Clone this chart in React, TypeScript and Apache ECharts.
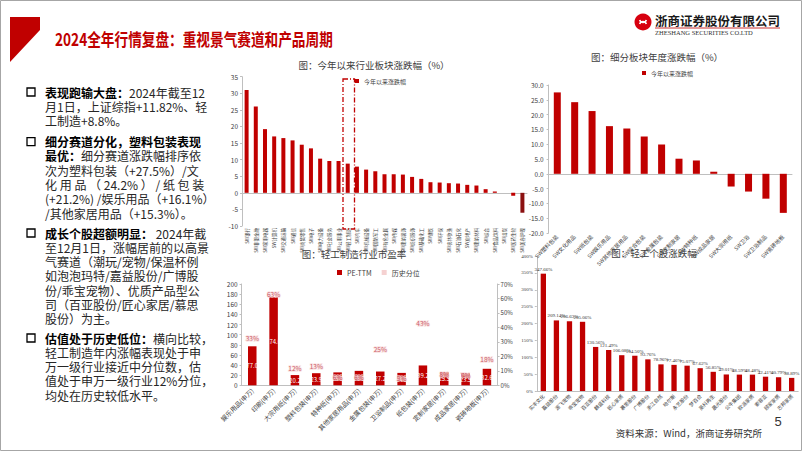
import React, { useEffect, useRef } from 'react';
import * as echarts from 'echarts';

// ---------- DATA ----------
const industryNames = [
  'SW银行', 'SW非银金融', 'SW家用电器', 'SW计算机', 'SW交通运输', 'SW通信', 'SW商贸零售', 'SW电子',
  'SW电力设备', 'SW社会服务', 'SW公用事业', 'SW轻工制造', 'SW汽车', 'SW机械设备', 'SW国防军工', 'SW有色金属',
  'SW传媒', 'SW建筑装饰', 'SW纺织服饰', 'SW基础化工', 'SW钢铁', 'SW环保', 'SW农林牧渔', 'SW石油石化',
  'SW房地产', 'SW建筑材料', 'SW综合', 'SW食品饮料', 'SW煤炭', 'SW医药生物', 'SW美容护理',
];
const industryValues = [
  31.0, 26.0, 19.2, 17.0, 16.5, 15.8, 14.5, 13.4, 10.3, 9.6, 9.6, 8.8, 7.9, 7.0, 6.5, 5.6,
  5.6, 5.5, 4.8, 4.2, 3.2, 3.1, 2.9, 2.8, 2.4, 2.2, 1.1, 0.4, 0.0, -0.9, -6.0,
];
const industryTicks = [-10, -5, 0, 5, 10, 15, 20, 25, 30, 35];

const subNames = [
  'SW塑料包装', 'SW文化用品', 'SW纸包装', 'SW娱乐用品', 'SW其他家居用品', 'SW综合包装', 'SW金属包装',
  'SW定制家居', 'SW特种纸', 'SW成品家居', 'SW大宗用纸', 'SW卫浴', 'SW卫浴制品', 'SW瓷砖地板',
];
const subValues = [27.5, 24.2, 21.2, 16.1, 15.3, 12.6, 9.9, 5.1, 4.5, 0.7, -4.3, -6.0, -8.4, -13.2];
const subTicks = [-20, -15, -10, -5, 0, 5, 10, 15, 20, 25, 30];

const peNames = [
  '娱乐用品(申万)', '印刷(申万)', '大宗用纸(申万)', '塑料包装(申万)', '特种纸(申万)', '其他家居用品(申万)',
  '金属包装(申万)', '卫浴制品(申万)', '纸包装(申万)', '定制家居(申万)', '成品家居(申万)', '瓷砖地板(申万)',
];
const peValues = [77.0, 174.0, 20.2, 23.9, 25.5, 28.5, 27.2, 24.5, 39.2, 25.5, 23.5, 32.6];
const pctValues = [33, 63, 12, 13, 6, 6, 25, 5, 43, 8, 7, 18];
const peTicks = [0, 20, 40, 60, 80, 100, 120, 140, 160, 180, 200];
const pctTicks = [0, 10, 20, 30, 40, 50, 60, 70];

const stockNames = [
  '实丰文化', '嘉益股份', '源飞宠物', '乖宝宠物', '百亚股份', '麒盛科技', '匠心家居', '慕思股份',
  '广博股份', '浙江自然', '哈尔斯', '永艺股份', '梦百合', '英科再生', '晨光股份', '公牛集团',
  '欧派家居', '索菲亚', '顾家家居', '志邦家居',
];
const stockValues = [
  347.66, 209.14, 206.63, 205.06, 130.56, 121.49, 106.08, 104.5, 93.76, 78.96,
  77.46, 75.07, 67.62, 56.85, 49.01, 48.59, 48.48, 42.41, 40.79, 38.89,
];
const stockTicks = [0, 50, 100, 150, 200, 250, 300, 350, 400];

// ---------- STYLE ----------
const RED = '#C00000';
const CJK = 'Noto Sans CJK SC';
const AXIS_LINE = { show: true, lineStyle: { color: '#BFBFBF', width: 1 } };

const para = (x: number, y: number, lines: string[]) => ({
  type: 'text',
  x,
  y: y - 7.15,
  style: {
    text: lines.join('\n'),
    fontSize: 12,
    fontFamily: CJK,
    fill: '#262626',
    lineHeight: 14.3,
    verticalAlign: 'top',
    align: 'left',
    rich: {
      b: { fontSize: 12, fontFamily: CJK, fontWeight: 'bold', fill: '#000', lineHeight: 14.3 },
    },
  },
});

const bullet = (y: number) => ({
  type: 'rect',
  shape: { x: 27, y: y - 4, width: 8, height: 8 },
  style: { fill: 'none', stroke: '#000', lineWidth: 1.3 },
});

const chartTitle = (x: number, y: number, text: string) => ({
  type: 'text',
  x,
  y,
  z: 20,
  style: { text, fontSize: 9.5, fontFamily: CJK, fill: '#404040', align: 'center', verticalAlign: 'middle' },
});

export default function App() {
  const ref = useRef<HTMLDivElement>(null);

  useEffect(() => {
    const chart = echarts.init(ref.current!, null, { renderer: 'svg' });

    const option: any = {
      animation: false,
      backgroundColor: '#fff',
      textStyle: { fontFamily: CJK },
      legend: [
        {
          data: ['今年以来涨跌幅'],
          left: 350, top: 73, itemWidth: 4, itemHeight: 4, itemGap: 4, icon: 'rect',
          textStyle: { fontSize: 6, color: '#404040', fontFamily: CJK }, selectedMode: false,
        },
        {
          data: ['今年以来涨跌幅'],
          left: 637, top: 65, itemWidth: 4, itemHeight: 4, itemGap: 4, icon: 'rect',
          textStyle: { fontSize: 6, color: '#404040', fontFamily: CJK }, selectedMode: false,
        },
        {
          data: ['PE-TTM', '历史分位'],
          left: 332, top: 264, itemWidth: 5, itemHeight: 5, itemGap: 10, icon: 'rect',
          textStyle: { fontSize: 7, color: '#404040', fontFamily: CJK }, selectedMode: false,
        },
      ],
      grid: [
        { left: 242, top: 76.7, width: 285, height: 149.3 },
        { left: 548.6, top: 85, width: 243.4, height: 148 },
        { left: 241.6, top: 284, width: 256, height: 101.3 },
        { left: 536.8, top: 256, width: 261.4, height: 135 },
      ],
      xAxis: [
        {
          type: 'category', gridIndex: 0, data: industryNames,
          axisLine: { ...AXIS_LINE, onZero: true }, axisTick: { show: false },
          axisLabel: { rotate: 90, interval: 0, fontSize: 4.5, margin: 2, color: '#404040' },
        },
        {
          type: 'category', gridIndex: 1, data: subNames,
          axisLine: { ...AXIS_LINE, onZero: true }, axisTick: { show: false },
          axisLabel: { rotate: 45, interval: 0, fontSize: 5.5, margin: 3, color: '#404040' },
        },
        {
          type: 'category', gridIndex: 2, data: peNames,
          axisLine: AXIS_LINE, axisTick: { show: false },
          axisLabel: { rotate: 45, interval: 0, fontSize: 6.5, margin: 4, color: '#404040' },
        },
        {
          type: 'category', gridIndex: 3, data: stockNames,
          axisLine: AXIS_LINE, axisTick: { show: false },
          axisLabel: { rotate: 45, interval: 0, fontSize: 5, margin: 4, color: '#404040' },
        },
      ],
      yAxis: [
        {
          type: 'value', gridIndex: 0,
          min: industryTicks[0], max: industryTicks[industryTicks.length - 1], interval: 5,
          axisLine: AXIS_LINE, axisTick: { show: true, length: 2, lineStyle: { color: '#BFBFBF' } },
          splitLine: { show: false },
          axisLabel: { fontSize: 6.5, color: '#404040', margin: 4 },
        },
        {
          type: 'value', gridIndex: 1,
          min: subTicks[0], max: subTicks[subTicks.length - 1], interval: 5,
          axisLine: AXIS_LINE, axisTick: { show: true, length: 2, lineStyle: { color: '#BFBFBF' } },
          splitLine: { show: false },
          axisLabel: { fontSize: 6.5, color: '#404040', margin: 5, formatter: (v: number) => v.toFixed(1) },
        },
        {
          type: 'value', gridIndex: 2,
          min: peTicks[0], max: peTicks[peTicks.length - 1], interval: 20,
          axisLine: AXIS_LINE, axisTick: { show: true, length: 2, lineStyle: { color: '#BFBFBF' } },
          splitLine: { show: false },
          axisLabel: { fontSize: 6.5, color: '#404040', margin: 4 },
        },
        {
          type: 'value', gridIndex: 2, position: 'right',
          min: pctTicks[0], max: pctTicks[pctTicks.length - 1], interval: 10,
          axisLine: AXIS_LINE, axisTick: { show: true, length: 2, lineStyle: { color: '#BFBFBF' } },
          splitLine: { show: false },
          axisLabel: { fontSize: 6, color: '#404040', margin: 3, formatter: '{value}%' },
        },
        {
          type: 'value', gridIndex: 3,
          min: stockTicks[0], max: stockTicks[stockTicks.length - 1], interval: 50,
          axisLine: AXIS_LINE, axisTick: { show: true, length: 2, lineStyle: { color: '#BFBFBF' } },
          splitLine: { show: false },
          axisLabel: { fontSize: 5, color: '#404040', margin: 4, formatter: '{value}%', fontFamily: 'Liberation Serif' },
        },
      ],
      series: [
        {
          name: '今年以来涨跌幅', type: 'bar', xAxisIndex: 0, yAxisIndex: 0, barWidth: 4,
          itemStyle: { color: RED },
          data: industryValues.map((v, i) =>
            i === industryValues.length - 1 ? { value: v, itemStyle: { color: '#8B1010' } } : v),
        },
        {
          name: '今年以来涨跌幅', type: 'bar', xAxisIndex: 1, yAxisIndex: 1, barWidth: 7,
          itemStyle: { color: RED }, data: subValues,
        },
        {
          name: 'PE-TTM', type: 'bar', xAxisIndex: 2, yAxisIndex: 2, barWidth: 8.5,
          itemStyle: { color: RED }, data: peValues,
          label: {
            show: true, position: 'inside', fontSize: 6, color: '#fff',
            formatter: (p: any) => p.value.toFixed(1),
          },
        },
        {
          name: '历史分位', type: 'scatter', xAxisIndex: 2, yAxisIndex: 3, symbol: 'rect', symbolSize: 0.1,
          itemStyle: { color: '#F2C6C6' }, data: pctValues, z: 5,
          label: {
            show: true, position: 'inside', fontSize: 6.5, color: '#C0394A',
            textBorderColor: '#F8DADA', textBorderWidth: 1.5,
            formatter: (p: any) => p.value + '%',
          },
        },
        {
          name: '个股涨跌幅', type: 'bar', xAxisIndex: 3, yAxisIndex: 4, barWidth: 5.3,
          itemStyle: { color: RED }, data: stockValues,
          label: {
            show: true, position: 'top', distance: 2, fontSize: 5, color: '#333', fontFamily: 'Liberation Serif',
            formatter: (p: any) => p.value.toFixed(2) + '%',
          },
        },
      ],
      graphic: [
        // page frame
        { type: 'rect', shape: { x: 0.5, y: 0.5, width: 801, height: 450 }, style: { fill: 'none', stroke: '#A6A6A6', lineWidth: 1 } },
        // red corner flag
        { type: 'polygon', shape: { points: [[10, 17], [40, 17], [40, 30], [10, 62]] }, style: { fill: '#C00000' } },
        // main title
        {
          type: 'text', x: 55, y: 39, scaleX: 0.78,
          style: {
            text: '2024全年行情复盘：重视景气赛道和产品周期', fontSize: 17.5, fontWeight: 'bold',
            fontFamily: CJK, fill: '#C00000', align: 'left', verticalAlign: 'middle',
          },
        },
        // logo
        { type: 'circle', shape: { cx: 643, cy: 22, r: 8.5 }, style: { fill: '#D7000F' } },
        { type: 'arc', shape: { cx: 643, cy: 19, r: 3.5, startAngle: Math.PI * 0.1, endAngle: Math.PI * 0.9 }, style: { stroke: '#fff', lineWidth: 1.6, fill: 'none' } },
        { type: 'arc', shape: { cx: 643, cy: 25, r: 3.5, startAngle: Math.PI * 1.1, endAngle: Math.PI * 1.9 }, style: { stroke: '#fff', lineWidth: 1.6, fill: 'none' } },
        {
          type: 'text', x: 655, y: 20,
          style: { text: '浙商证券股份有限公司', fontSize: 12.5, fontWeight: 'bold', fontFamily: CJK, fill: '#1a1a1a', verticalAlign: 'middle' },
        },
        { type: 'line', shape: { x1: 655, y1: 28, x2: 780, y2: 28 }, style: { stroke: '#C00000', lineWidth: 0.8 } },
        {
          type: 'text', x: 655, y: 32.5,
          style: { text: 'ZHESHANG SECURITIES CO.LTD', fontSize: 6.5, fontFamily: 'Liberation Serif', fill: '#333', verticalAlign: 'middle' },
        },
        // left bullets
        bullet(92), bullet(141.7), bullet(233), bullet(338),
        para(45, 92, [
          '{b|表现跑输大盘：}2024年截至12',
          '月1日，上证综指+11.82%、轻',
          '工制造+8.8%。',
        ]),
        para(45, 141.7, [
          '{b|细分赛道分化，塑料包装表现}',
          '{b|最优：}细分赛道涨跌幅排序依',
          '次为塑料包装（+27.5%）/文',
          '化 用 品 （ 24.2% ） / 纸 包 装',
          '(+21.2%) /娱乐用品（+16.1%）',
          '/其他家居用品（+15.3%）。',
        ]),
        para(45, 233, [
          '{b|成长个股超额明显：} 2024年截',
          '至12月1日，涨幅居前的以高景',
          '气赛道（潮玩/宠物/保温杯例',
          '如泡泡玛特/嘉益股份/广博股',
          '份/乖宝宠物）、优质产品型公',
          '司（百亚股份/匠心家居/慕思',
          '股份）为主。',
        ]),
        para(45, 338, [
          '{b|估值处于历史低位：}横向比较，',
          '轻工制造年内涨幅表现处于申',
          '万一级行业接近中分位数，估',
          '值处于申万一级行业12%分位，',
          '均处在历史较低水平。',
        ]),
        // chart titles
        chartTitle(374, 65, '图：今年以来行业板块涨跌幅（%）'),
        chartTitle(657, 57, '图：细分板块年度涨跌幅（%）'),
        chartTitle(354, 254, '图：轻工制造行业市盈率'),
        chartTitle(654, 253, '图：轻工个股涨跌幅'),
        // highlight box around 轻工制造
        {
          type: 'rect', shape: { x: 343, y: 79, width: 11.5, height: 150 },
          style: { fill: 'none', stroke: '#C00000', lineWidth: 1.3, lineDash: [5, 2, 1, 2] }, z: 10,
        },
        // footer
        {
          type: 'text', x: 762, y: 433,
          style: { text: '资料来源：Wind，浙商证券研究所', fontSize: 9.5, fontFamily: CJK, fill: '#333', align: 'right', verticalAlign: 'middle' },
        },
        {
          type: 'text', x: 778, y: 421,
          style: { text: '5', fontSize: 13, fontFamily: 'Liberation Sans', fill: '#333', align: 'center', verticalAlign: 'middle' },
        },
      ],
    };

    chart.setOption(option);
    return () => chart.dispose();
  }, []);

  return (
    <div
      ref={ref}
      style={{ position: 'fixed', left: 0, top: 0, width: 802, height: 451, background: '#fff' }}
    />
  );
}
